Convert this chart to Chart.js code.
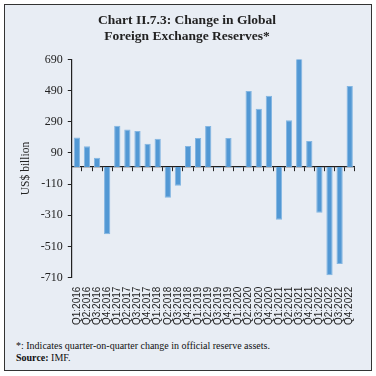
<!DOCTYPE html>
<html>
<head>
<meta charset="utf-8">
<script src="https://cdn.jsdelivr.net/npm/chart.js@4.4.1/dist/chart.umd.min.js"></script>
<style>
    html, body { margin: 0; padding: 0; background: #ffffff; }
    #frame {
        position: absolute; left: 4px; top: 4px; width: 366px; height: 365px;
        border: 1px solid #333; background: #e8edf4; overflow: hidden;
    }
    #chartBox { position: absolute; left: 0; top: 0; width: 366px; height: 331px; }
    .note {
        position: absolute; left: 11px; margin: 0; white-space: nowrap;
        font-family: 'Liberation Serif', serif; font-size: 10px; color: #111;
    }
</style>
</head>
<body>
<div id="frame">
    <div id="chartBox"><canvas id="myChart"></canvas></div>
    <p class="note" style="top:335px">*: Indicates quarter-on-quarter change in official reserve assets.</p>
    <p class="note" style="top:347px"><b>Source:</b> IMF.</p>
</div>
<script>
// quarters shown on the x axis
const quarters = [
    'Q1:2016', 'Q2:2016', 'Q3:2016', 'Q4:2016',
    'Q1:2017', 'Q2:2017', 'Q3:2017', 'Q4:2017',
    'Q1:2018', 'Q2:2018', 'Q3:2018', 'Q4:2018',
    'Q1:2019', 'Q2:2019', 'Q3:2019', 'Q4:2019',
    'Q1:2020', 'Q2:2020', 'Q3:2020', 'Q4:2020',
    'Q1:2021', 'Q2:2021', 'Q3:2021', 'Q4:2021',
    'Q1:2022', 'Q2:2022', 'Q3:2022', 'Q4:2022'
];

// quarter-on-quarter change, US$ billion
const reserveChange = [
    189, 133, 59, -431,
    265, 241, 231, 149,
    181, -197, -121, 135,
    186, 262, -5, 185,
    -5, 487, 374, 457,
    -339, 300, 709, 166,
    -293, -694, -622, 520
];

const yTicks = [-710, -510, -310, -110, 90, 290, 490, 690];

const ink = '#222';
const serif = "'Liberation Serif', serif";

const ctx = document.getElementById('myChart').getContext('2d');
new Chart(ctx, {
    type: 'bar',
    data: {
        labels: quarters,
        datasets: [{
            data: reserveChange,
            backgroundColor: '#5298d4',
            borderColor: '#84b6e2',
            borderWidth: 1,
            barPercentage: 0.62,
            categoryPercentage: 1
        }]
    },
    options: {
        responsive: true,
        maintainAspectRatio: false,
        animation: false,
        layout: { padding: { left: 14, right: 16, top: 0, bottom: 2 } },
        plugins: {
            legend: { display: false },
            tooltip: { enabled: false },
            title: {
                display: true,
                text: ['Chart II.7.3: Change in Global', 'Foreign Exchange Reserves*'],
                color: ink,
                font: { family: serif, size: 13.5, weight: 'bold', lineHeight: 1.2 },
                padding: { top: 7, bottom: 15 }
            }
        },
        scales: {
            x: {
                type: 'category',
                offset: true,
                grid: { display: false, drawTicks: false },
                border: { display: false },
                ticks: {
                    color: ink,
                    autoSkip: false,
                    minRotation: 90,
                    maxRotation: 90,
                    padding: 9,
                    font: { family: "'Liberation Sans', sans-serif", size: 10 }
                }
            },
            // zero line with its tick marks
            xZero: {
                type: 'category',
                position: { y: 0 },
                offset: true,
                grid: { display: true, drawOnChartArea: false, offset: true, tickLength: 4, color: ink },
                border: { display: true, color: ink, width: 1.2 },
                ticks: { display: false }
            },
            y: {
                min: -710,
                max: 690,
                afterBuildTicks: axis => { axis.ticks = yTicks.map(v => ({ value: v })); },
                grid: { display: true, drawOnChartArea: false, tickLength: 4, color: ink },
                border: { display: true, color: ink, width: 1.2 },
                ticks: { color: ink, padding: 5, font: { family: serif, size: 12 } },
                title: {
                    display: true,
                    text: 'US$ billion',
                    color: ink,
                    padding: { top: 0, bottom: 3 },
                    font: { family: serif, size: 11.5 }
                }
            }
        }
    }
});
</script>
</body>
</html>
